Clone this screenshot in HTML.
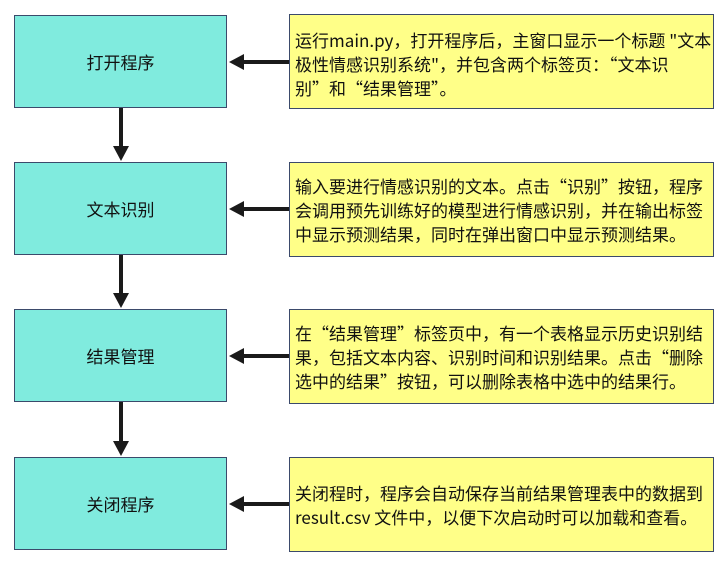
<!DOCTYPE html>
<html><head><meta charset="utf-8"><style>
body{margin:0;width:727px;height:563px;background:#fff;position:relative;overflow:hidden;font-family:"Liberation Sans","Noto Sans CJK SC",sans-serif}
.l{position:absolute;left:14px;width:213px;height:93px;background:#80ebde;border:1.5px solid #3b4a6b;box-sizing:border-box;display:flex;align-items:center;justify-content:center;font-size:17px;color:#111}
.r{position:absolute;left:289px;width:425px;height:95px;background:#ffff88;border:1.5px solid #3b4a6b;box-sizing:border-box;padding:15px 0 0 5px;font-size:17px;line-height:24px;color:#111;white-space:nowrap;font-family:"Noto Sans CJK SC",sans-serif}
.r span{letter-spacing:0}
svg{position:absolute;left:0;top:0}
</style></head><body>
<div class="l" style="top:15px">打开程序</div>
<div class="l" style="top:162px">文本识别</div>
<div class="l" style="top:309px">结果管理</div>
<div class="l" style="top:457px">关闭程序</div>
<div class="r" style="top:14px;padding-top:13px">运行main.py，打开程序后，主窗口显示一个标题 "文本<br>极性情感识别系统"，并包含两个标签页：“文本识<br>别”和“结果管理”。</div>
<div class="r" style="top:162px;padding-top:11px">输入要进行情感识别的文本。点击“识别”按钮，程序<br>会调用预先训练好的模型进行情感识别，并在输出标签<br>中显示预测结果，同时在弹出窗口中显示预测结果。</div>
<div class="r" style="top:309px;padding-top:11px">在“结果管理”标签页中，有一个表格显示历史识别结<br>果，包括文本内容、识别时间和识别结果。点击“删除<br>选中的结果”按钮，可以删除表格中选中的结果行。</div>
<div class="r" style="top:457px;padding-top:23px">关闭程时，程序会自动保存当前结果管理表中的数据到<br>result.csv 文件中，以便下次启动时可以加载和查看。</div>
<svg width="727" height="563">
<g stroke="#1a1a1a" stroke-width="4" fill="#1a1a1a">
<line x1="289" y1="62" x2="240" y2="62"/><polygon points="229,62 244,54 244,70" stroke="none"/>
<line x1="289" y1="209" x2="240" y2="209"/><polygon points="229,209 244,201 244,217" stroke="none"/>
<line x1="289" y1="356" x2="240" y2="356"/><polygon points="229,356 244,348 244,364" stroke="none"/>
<line x1="289" y1="504" x2="240" y2="504"/><polygon points="229,504 244,496 244,512" stroke="none"/>
<line x1="121" y1="108" x2="121" y2="150"/><polygon points="121,161 113,146 129,146" stroke="none"/>
<line x1="121" y1="255" x2="121" y2="297"/><polygon points="121,308 113,293 129,293" stroke="none"/>
<line x1="121" y1="402" x2="121" y2="445"/><polygon points="121,456 113,441 129,441" stroke="none"/>
</g></svg>
</body></html>
